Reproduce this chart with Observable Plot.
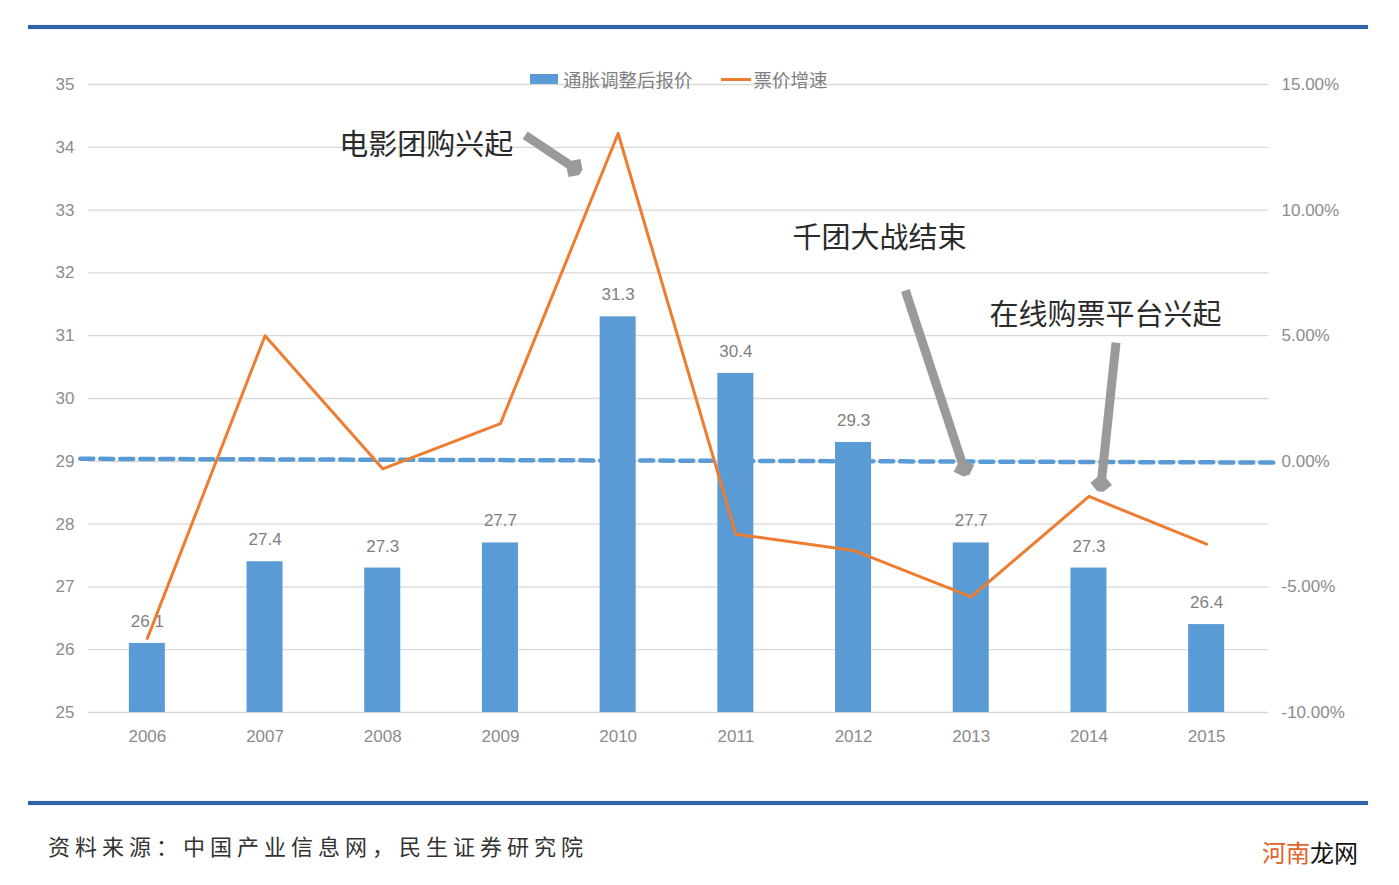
<!DOCTYPE html>
<html><head><meta charset="utf-8">
<script src="https://cdn.jsdelivr.net/npm/d3@7"></script>
<script src="https://cdn.jsdelivr.net/npm/@observablehq/plot@0.6"></script>
<style>
body{margin:0;background:#fff;width:1399px;height:885px;position:relative;overflow:hidden;font-family:"Liberation Sans Narrow","Liberation Sans",sans-serif;}
.rule{position:absolute;left:28px;width:1340px;height:4px;background:#2f62a8;box-shadow:0 0 1px #7aa3d6;}
#chart{position:absolute;left:0;top:0;}
.legend{position:absolute;top:66px;left:530px;font-family:"Noto Sans CJK SC",sans-serif;font-size:18.5px;color:#7f7f7f;display:flex;align-items:center;white-space:nowrap;}
.sw{display:inline-block;width:28px;height:10px;background:#5b9bd5;margin-right:5px;}
.ln{display:inline-block;width:30px;height:3px;background:#ed7d31;margin-left:28px;margin-right:3px;}
.src{position:absolute;left:48px;top:829px;font-family:"Noto Sans CJK SC",serif;font-size:22px;letter-spacing:5px;color:#333;}
.wm{position:absolute;left:1262px;top:834px;font-family:"Noto Sans CJK SC",sans-serif;font-size:24px;color:#111;}
.wm span{color:#e0632b;}
</style></head>
<body>
<div class="rule" style="top:25px"></div>
<div id="chart"></div>
<div class="legend"><span class="sw"></span>通胀调整后报价<span class="ln"></span>票价增速</div>
<div class="rule" style="top:801px"></div>
<div class="src">资料来源：中国产业信息网，民生证券研究院</div>
<div class="wm"><span>河南</span>龙网</div>
<script>
// data
const years = [2006, 2007, 2008, 2009, 2010, 2011, 2012, 2013, 2014, 2015];
const adjustedPrice = [26.1, 27.4, 27.3, 27.7, 31.3, 30.4, 29.3, 27.7, 27.3, 26.4];
const priceGrowthPct = [-7.05, 5.0, -0.3, 1.5, 13.05, -2.9, -3.55, -5.4, -1.4, -3.3];
const leftTicks = [25, 26, 27, 28, 29, 30, 31, 32, 33, 34, 35];
const rightTickPct = [-10, -5, 0, 5, 10, 15];
// dashed reference line (secondary-axis zero line), in [year, left-axis value]
const dashedLine = [[2005.43, 29.04], [2015.58, 28.98]];
// annotations
const notes = [
  {text: "电影团购兴起", x: 2008.37, y: 34.03},
  {text: "千团大战结束", x: 2012.22, y: 32.55},
  {text: "在线购票平台兴起", x: 2014.14, y: 31.32}
];
const arrows = [
  {x1: 2009.21, y1: 34.19, x2: 2009.66, y2: 33.63},
  {x1: 2012.44, y1: 31.72, x2: 2012.95, y2: 28.82},
  {x1: 2014.23, y1: 30.89, x2: 2014.10, y2: 28.57}
];

const toLeft = p => 29 + p * 0.4;
const bars = years.map((y, i) => ({year: y, v: adjustedPrice[i]}));
const growth = years.map((y, i) => ({year: y, p: priceGrowthPct[i]}));
const half = 0.153;

const chart = Plot.plot({
  width: 1399,
  height: 780,
  marginLeft: 88,
  marginRight: 134,
  marginTop: 84,
  marginBottom: 68,
  style: {fontFamily: '"Liberation Sans Narrow","Liberation Sans",sans-serif', fontSize: "17px", color: "#7f7f7f", background: "transparent"},
  x: {domain: [2005.5, 2015.5], axis: null},
  y: {domain: [25, 35], axis: null},
  marks: [
    Plot.ruleY(leftTicks, {x1: 2005.5, x2: 2015.53, stroke: "#d9d9d9", strokeWidth: 1.3}),
    Plot.rectY(bars, {x1: d => d.year - half, x2: d => d.year + half, y1: 25, y2: "v", fill: "#5b9bd5"}),
    Plot.text(bars, {x: "year", y: "v", text: d => d.v.toFixed(1), dy: -22, fill: "#7f7f7f", fontSize: 17}),
    Plot.axisY({ticks: leftTicks, anchor: "left", tickSize: 0, tickPadding: 14, tickFormat: d => d, fontSize: 17, label: null, color: "#8c8c8c"}),
    Plot.axisY({ticks: rightTickPct.map(toLeft), anchor: "right", tickSize: 0, tickPadding: 16, tickFormat: d => ((d - 29) / 0.4).toFixed(2) + "%", fontSize: 17, label: null, color: "#8c8c8c"}),
    Plot.axisX({ticks: years, anchor: "bottom", tickSize: 0, tickPadding: 17, tickFormat: d => String(d), fontSize: 17, label: null, color: "#8c8c8c"}),
    Plot.line(dashedLine, {x: d => d[0], y: d => d[1], stroke: "#5b9bd5", strokeWidth: 4.5, strokeDasharray: "13,7"}),
    Plot.line(growth, {x: "year", y: d => toLeft(d.p), stroke: "#ed7d31", strokeWidth: 3}),
    Plot.arrow(arrows, {x1: "x1", y1: "y1", x2: "x2", y2: "y2", stroke: "#9a9a9a", strokeWidth: 9, headLength: 1.8, headAngle: 90, strokeLinecap: "butt", strokeLinejoin: "miter"}),
    Plot.text(notes, {x: "x", y: "y", text: "text", fontSize: 29, fill: "#2b2b2b", fontFamily: '"Noto Sans CJK SC",sans-serif'})
  ]
});
document.getElementById("chart").appendChild(chart);
</script>
</body></html>
